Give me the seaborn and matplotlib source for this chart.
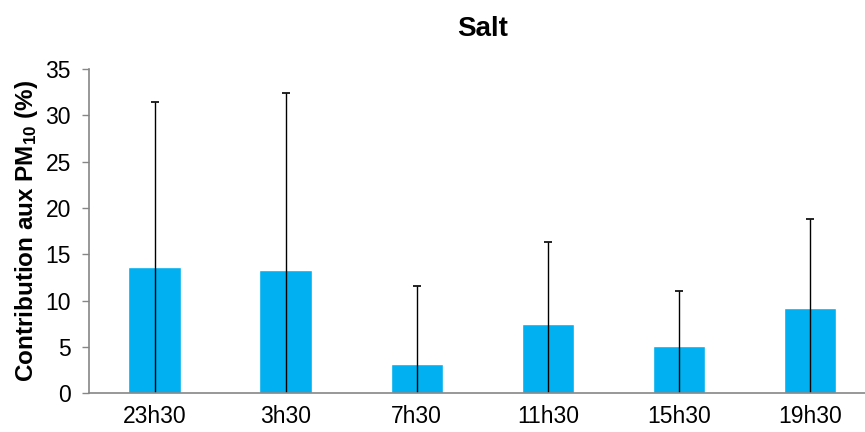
import numpy as np
import pandas as pd
import matplotlib
matplotlib.use('Agg')
import matplotlib.pyplot as plt
import seaborn as sns

# values
hours = ['23h30', '3h30', '7h30', '11h30', '15h30', '19h30']
contrib = [13.6, 13.3, 3.1, 7.5, 5.1, 9.2]
ecart = [17.8, 19.1, 8.5, 8.8, 5.9, 9.6]

df = pd.DataFrame({'heure': hours, 'contrib': contrib})

sns.set_style('white')
plt.rcParams['font.family'] = ['Liberation Sans', 'DejaVu Sans']
plt.rcParams['mathtext.fontset'] = 'custom'
plt.rcParams['mathtext.bf'] = 'Liberation Sans:bold'
plt.rcParams['mathtext.rm'] = 'Liberation Sans:bold'
plt.rcParams['mathtext.default'] = 'bf'
plt.rcParams['text.color'] = 'black'
plt.rcParams['axes.labelcolor'] = 'black'

fig = plt.figure(figsize=(8.65, 4.32), dpi=100)
ax = fig.add_axes([0.103, 0.090, 0.909, 0.750])

sns.barplot(data=df, x='heure', y='contrib', color='#00B0F0', width=0.4,
            saturation=1, errorbar=None, ax=ax)
ax.errorbar(np.arange(len(hours)), contrib, yerr=ecart, fmt='none',
            ecolor='black', elinewidth=1, capsize=3, capthick=1.2)

ax.set_ylim(0, 35)
ax.set_xlim(-0.5, 5.5)
ax.set_yticks(range(0, 36, 5))
ax.set_xlabel('')
ax.set_ylabel('Contribution aux PM$_{10}$ (%)', fontsize=17.5, fontweight='bold',
              labelpad=4)
ax.set_title('Salt', fontsize=20, fontweight='bold', pad=24)

for s in ['top', 'right']:
    ax.spines[s].set_visible(False)
for s in ['left', 'bottom']:
    ax.spines[s].set_color('#868686')
    ax.spines[s].set_linewidth(1.2)
ax.tick_params(axis='y', which='both', left=True, length=5, width=1,
               color='#868686', labelcolor='black', labelsize=16.5, pad=8)
ax.tick_params(axis='x', bottom=False, labelcolor='black', labelsize=16.5, pad=5)

fig.savefig('out.png', dpi=100)
